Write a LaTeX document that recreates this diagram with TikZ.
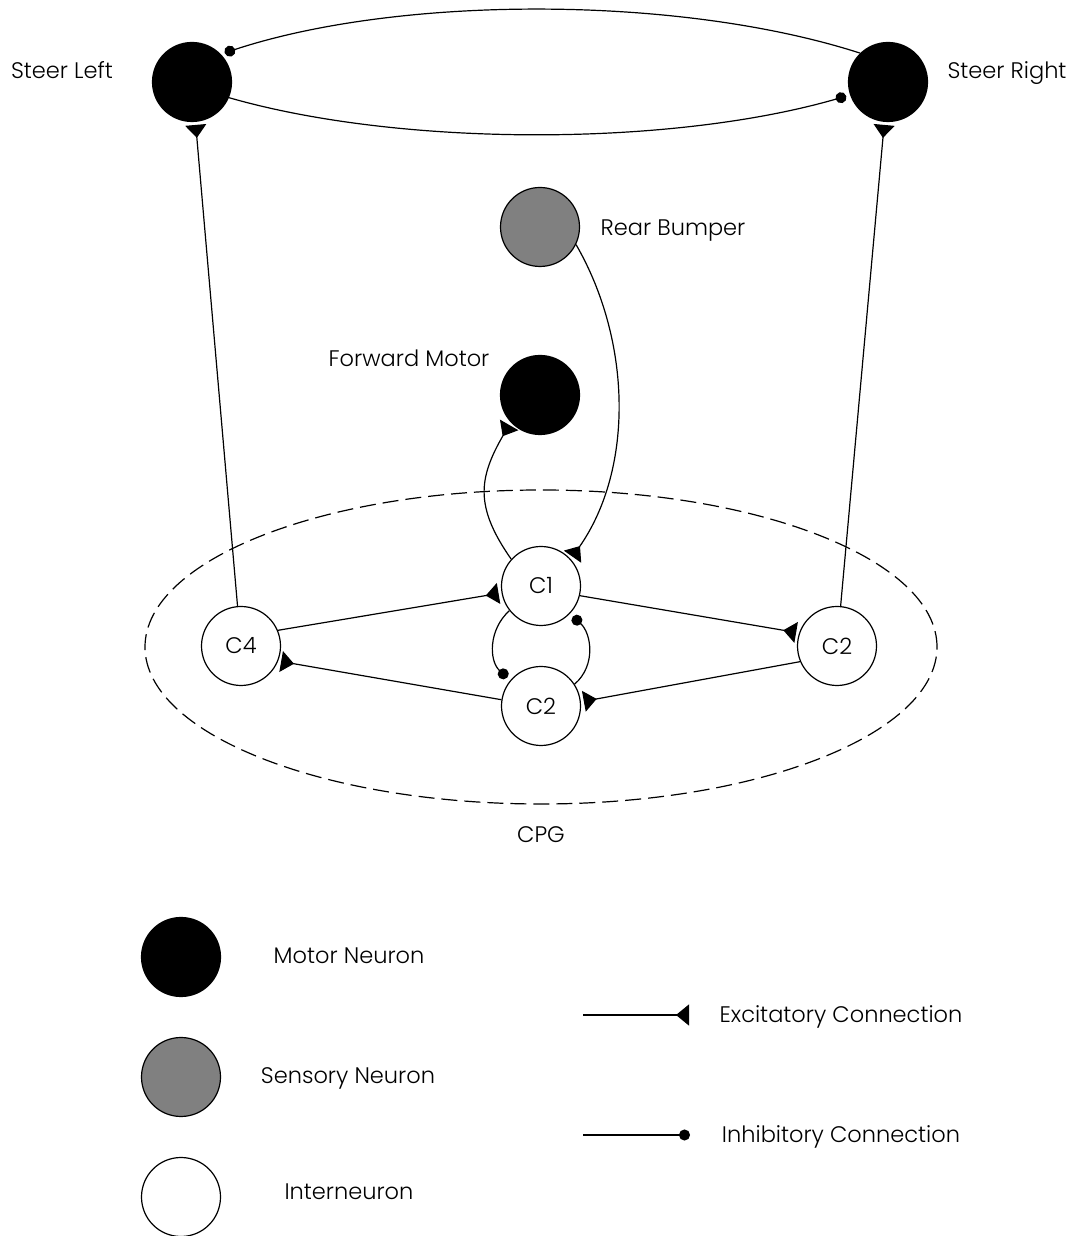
\documentclass[tikz,border=0pt]{standalone}
\usepackage{fontspec}
\setmainfont{Poppins}[UprightFont=* Light]
\usetikzlibrary{arrows.meta}
\definecolor{sensorygray}{RGB}{128,128,128}
\begin{document}
\begin{tikzpicture}[x=1pt,y=1pt, line width=1.2pt,
  txt/.style={font=\fontsize{22.5}{27}\selectfont},
  neuron/.style={circle, draw, minimum size=79pt, inner sep=0pt, txt},
  motor/.style={neuron, fill=black},
  sensory/.style={neuron, fill=sensorygray},
  inter/.style={neuron, fill=white},
  lbl/.style={anchor=base, inner sep=0pt, txt},
  exctip/.style={-{Triangle[reversed,length=13pt,width=21pt]}},
  inhtip/.style={-{Circle[length=11pt]}},
  exc/.style={exctip, shorten >=3pt},
  inh/.style={inhtip, shorten >=4pt},
]
\useasboundingbox (0,0) rectangle (1073,1236);

% CPG boundary
\draw[dash pattern=on 16pt off 7pt] (541,589) ellipse[x radius=396, y radius=157];
\node[lbl] (cpg) at (541,393) {CPG};

% neurons
\node[motor] (SL) at (192,1154) {};
\node[motor] (SR) at (888,1154) {};
\node[sensory] (RB) at (540,1009) {};
\node[motor] (FM) at (540,841) {};
\node[inter] (C1) at (541,650) {C1};
\node[inter] (C4) at (241,590) {C4};
\node[inter] (C2r) at (837,590) {C2};
\node[inter] (C2b) at (541,530) {C2};

% neuron labels
\node[lbl] (tSL) at (62,1157) {Steer Left};
\node[lbl] (tSR) at (1007,1157) {Steer Right};
\node[lbl] (tRB) at (673,1000) {Rear Bumper};
\node[lbl] (tFM) at (409,869) {Forward Motor};

% mutual inhibition of the steering motors
\draw[inh] (SR.134) .. controls (680,1241) and (400,1241) .. (SL.44);
\draw[inh] (SL.-23) .. controls (400,1089) and (670,1089) .. (SR.199);

% excitatory connections
\draw[exc] (C4) -- (SL);
\draw[exc] (C2r) -- (SR);
\draw[exc] (RB.-26) to[out=-60, in=55, looseness=0.9] (C1.42);
\draw[exc] (C1.138) to[out=125, in=240, looseness=1.2] (FM.223);
\draw[exc] (C4.23) -- (C1.190);
\draw[exc] (C1.-14) -- (C2r.161);
\draw[exc] (C2r.203) -- (C2b.6);
\draw[exc] (C2b.171) -- (C4.-22);

% inhibitory loop inside the CPG
\draw[inh] (C1.218) to[out=222, in=138, looseness=1.05] (C2b.140);
\draw[inh] (C2b.33) to[out=41, in=-42, looseness=1.05] (C1.-44);

% legend
\node[motor] (LM) at (181,279) {};
\node[sensory] (LS) at (181,159) {};
\node[inter] (LI) at (181,39) {};
\node[lbl] (tLM) at (349,272) {Motor Neuron};
\node[lbl] (tLS) at (348,152) {Sensory Neuron};
\node[lbl] (tLI) at (349,36) {Interneuron};

\coordinate (E0) at (583,221);
\coordinate (E1) at (689,221);
\draw[exctip] (E0) -- (E1);
\node[lbl] (tE) at (841,213) {Excitatory Connection};

\coordinate (I0) at (583,101);
\coordinate (I1) at (690,101);
\draw[inhtip] (I0) -- (I1);
\node[lbl] (tI) at (841,93) {Inhibitory Connection};
\end{tikzpicture}
\end{document}
